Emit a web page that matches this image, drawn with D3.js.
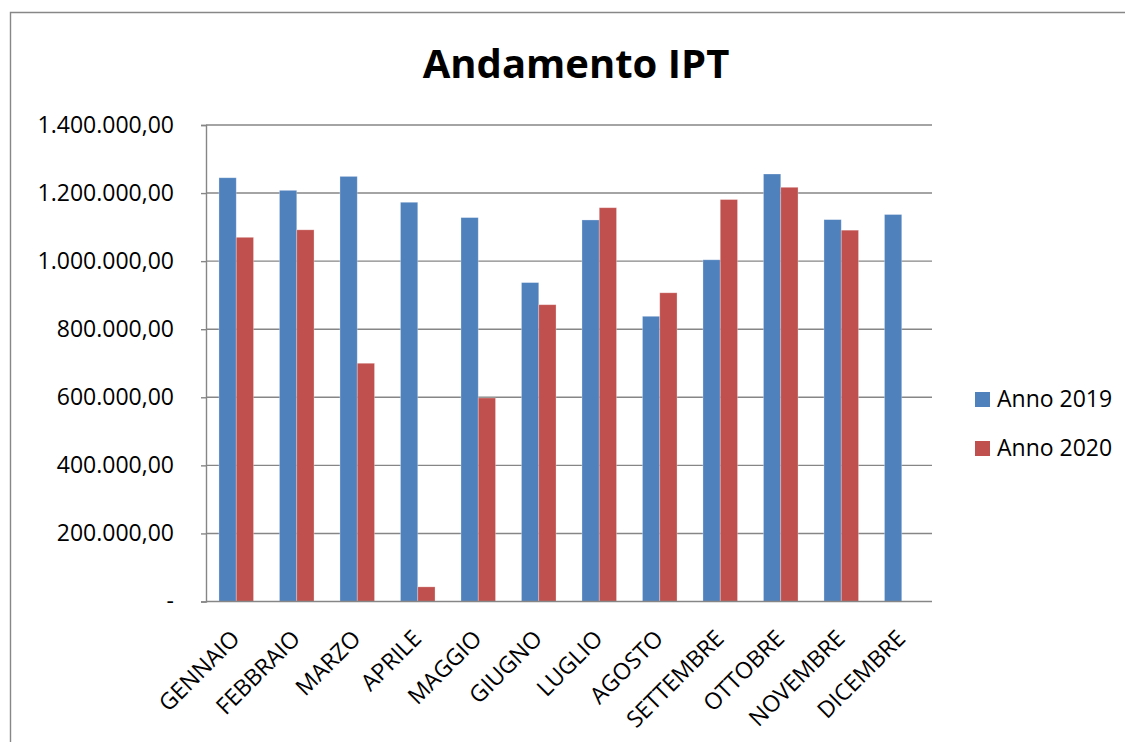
<!DOCTYPE html>
<html>
<head>
<meta charset="utf-8">
<script src="https://cdn.jsdelivr.net/npm/d3@7"></script>
<style>
  html, body { margin: 0; padding: 0; background: #fff; }
  svg { display: block; }
  text { font-family: "Open Sans", "Noto Sans", sans-serif; fill: #000; }
</style>
</head>
<body>
<svg id="chart" width="1125" height="742"></svg>
<script>
const title = "Andamento IPT";
const months = ["GENNAIO","FEBBRAIO","MARZO","APRILE","MAGGIO","GIUGNO","LUGLIO","AGOSTO","SETTEMBRE","OTTOBRE","NOVEMBRE","DICEMBRE"];
const seriesNames = ["Anno 2019", "Anno 2020"];
const anno2019 = [1245000, 1208000, 1249000, 1173000, 1128000, 937000, 1121000, 838000, 1004000, 1256000, 1122000, 1137000];
const anno2020 = [1070000, 1092000, 700000, 43000, 598000, 872000, 1157000, 907000, 1181000, 1217000, 1091000, null];
const yTicks = [0, 200000, 400000, 600000, 800000, 1000000, 1200000, 1400000];
const colors = ["#4F81BD", "#C0504D"];

const svg = d3.select("#chart");
const W = 1125, H = 742;
const plot = { left: 206, right: 932, top: 125, bottom: 601.5 };

svg.append("rect").attr("width", W).attr("height", H).attr("fill", "#fff");

// outer chart border (cropped)
svg.append("path")
  .attr("d", `M10.5,${H} L10.5,12.5 L${W},12.5`)
  .attr("fill", "none").attr("stroke", "#878787").attr("stroke-width", 1.4);

// title
svg.append("text")
  .attr("x", 576).attr("y", 78)
  .attr("text-anchor", "middle")
  .style("font-size", "40px").style("font-weight", "bold")
  .text(title);

const x0 = d3.scaleBand().domain(months).range([plot.left, plot.right]).paddingInner(0).paddingOuter(0);
const x1 = d3.scaleBand().domain(seriesNames).range([0, x0.bandwidth()]).paddingInner(0).paddingOuter(0.75);
const y = d3.scaleLinear().domain([0, 1400000]).range([plot.bottom, plot.top]);

const loc = d3.formatLocale({ decimal: ",", thousands: ".", grouping: [3], currency: ["", ""] });
const fmt = loc.format(",.2f");

// gridlines
const gridG = svg.append("g");
gridG.selectAll("line").data(yTicks.filter(d => d > 0)).join("line")
  .attr("x1", plot.left).attr("x2", plot.right)
  .attr("y1", d => y(d)).attr("y2", d => y(d))
  .attr("stroke", "#868686").attr("stroke-width", 1.4);

// bars
const data = months.map((m, i) => ({ month: m, values: [anno2019[i], anno2020[i]] }));
const groups = svg.append("g").selectAll("g").data(data).join("g")
  .attr("transform", d => `translate(${x0(d.month)},0)`);
groups.selectAll("rect")
  .data(d => seriesNames.map((s, k) => ({ s, v: d.values[k], k })).filter(e => e.v != null))
  .join("rect")
  .attr("x", e => x1(e.s))
  .attr("width", x1.bandwidth())
  .attr("y", e => y(e.v))
  .attr("height", e => y(0) - y(e.v))
  .attr("fill", e => colors[e.k])
  .attr("stroke", "rgba(255,255,255,0.35)")
  .attr("stroke-width", 0.8);

// y axis
const yAxis = d3.axisLeft(y).tickValues(yTicks).tickSize(5).tickPadding(27)
  .tickFormat(d => d === 0 ? "-" : fmt(d));
const yG = svg.append("g").attr("transform", `translate(${plot.left},0)`).call(yAxis);
yG.select(".domain").attr("stroke", "#868686").attr("stroke-width", 1.4);
yG.selectAll(".tick line").attr("stroke", "#868686").attr("stroke-width", 1.4);
yG.selectAll(".tick text")
  .style("font-size", "23px").style("font-family", "\"Open Sans\", sans-serif")
  .attr("fill", "#000");

// x axis line
svg.append("line")
  .attr("x1", plot.left).attr("x2", plot.right)
  .attr("y1", plot.bottom).attr("y2", plot.bottom)
  .attr("stroke", "#868686").attr("stroke-width", 1.6);

// x labels
svg.append("g").selectAll("text").data(months).join("text")
  .attr("transform", d => `translate(${x0(d) + x0.bandwidth() / 2 + 5},640) rotate(-45)`)
  .attr("text-anchor", "end")
  .style("font-size", "23px")
  .text(d => d);

// legend
const leg = svg.append("g").selectAll("g").data(seriesNames).join("g")
  .attr("transform", (d, i) => `translate(975,${392 + i * 49})`);
leg.append("rect").attr("width", 15).attr("height", 15).attr("fill", (d, i) => colors[i]);
leg.append("text").attr("x", 22).attr("y", 15).style("font-size", "23px").text(d => d);
</script>
</body>
</html>
